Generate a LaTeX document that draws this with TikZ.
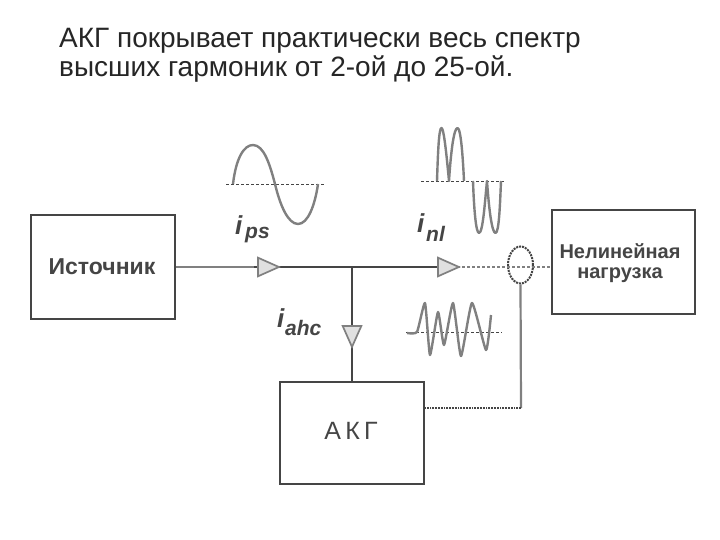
\documentclass[tikz,border=0pt]{standalone}
\usepackage{fontspec}
\setmainfont{Liberation Sans}
\usetikzlibrary{shapes.geometric}
\definecolor{ink}{gray}{0.27}
\definecolor{soft}{gray}{0.5}
\tikzset{
  blockbox/.style={draw=ink,line width=2pt,fill=white,inner sep=0pt,anchor=north west},
  blocklabel/.style={text=ink,align=center,inner sep=0pt},
  tri/.style={isosceles triangle,isosceles triangle apex angle=48,draw=soft,line width=1.7pt,fill=black!12,inner sep=0pt,minimum height=21pt,minimum width=16pt},
  mainline/.style={ink,line width=2.8pt},
  thinline/.style={soft,line width=1.8pt},
  wave/.style={soft,line width=2.4pt,line join=round},
  baseline/.style={ink,line width=.9pt,densely dashed},
  cur/.style={text=ink,inner sep=0pt,anchor=base west},
  title/.style={anchor=base west,inner sep=0pt,font=\fontsize{28}{32}\selectfont,text=black!85}
}
\begin{document}
\begin{tikzpicture}[x=1pt,y=-1pt]
\useasboundingbox[fill=white] (0,0) rectangle (720,540);
\node[title] (t1) at (59,47.5) {АКГ покрывает практически весь спектр};
\node[title] (t2) at (59,76.5) {высших гармоник от 2-ой до 25-ой.};

\node[blockbox,minimum width=144pt,minimum height=104pt] (src) at (30,214) {};
\node[blocklabel,font=\bfseries\fontsize{23}{26}\selectfont] (srcl) at (102,267) {Источник};
\node[blockbox,minimum width=143pt,minimum height=104pt] (load) at (551,209) {};
\node[blocklabel,font=\bfseries\fontsize{20}{20}\selectfont] (loadl) at (620,263) {Нелинейная\\нагрузка};
\node[blockbox,minimum width=144pt,minimum height=102pt] (akg) at (279,381) {};
\node[blocklabel,font=\fontsize{25}{28}\selectfont] (akgl) at (351,431) {А\,К\,Г};

\coordinate (j) at (352,267);
\coordinate (k) at (521,408);
\node[draw=ink,densely dotted,line width=2pt,ellipse,minimum width=25pt,minimum height=37pt,inner sep=0pt] (ct) at (520.5,265) {};

\draw[thinline] (src.east |- j) -- (254,267);
\draw[mainline] (254,267) -- (457,267);
\draw[thinline,densely dashed] (457,267) -- (load.west |- j);
\draw[mainline] (j) -- (akg.north -| j);
\draw[soft,line width=2.2pt] (ct.south) -- (k);
\draw[thinline,densely dotted,ink] (k) -- (k -| akg.east);

\node[tri] (a1) at (264,267) {};
\node[tri] (a2) at (444,267) {};
\node[tri,shape border rotate=-90] (a3) at (352,332) {};

\node[cur,font=\bfseries\itshape\fontsize{26}{28}\selectfont] (ips) at (235,235) {i};
\node[cur,font=\bfseries\itshape\fontsize{21}{24}\selectfont] (ipss) at (245,238) {ps};
\node[cur,font=\bfseries\itshape\fontsize{26}{28}\selectfont] (inl) at (417,233) {i};
\node[cur,font=\bfseries\itshape\fontsize{21}{24}\selectfont] (inls) at (426,241) {nl};
\node[cur,font=\bfseries\itshape\fontsize{26}{28}\selectfont] (iahc) at (277,327) {i};
\node[cur,font=\bfseries\itshape\fontsize{21}{24}\selectfont] (iahcs) at (285,335) {ahc};

% source current
\draw[baseline] (226,184) -- (325,184);
\draw[wave] (233,184) .. controls (236,158) and (244,145) .. (253,145)
  .. controls (264,145) and (270,165) .. (275,184)
  .. controls (280,205) and (288,224) .. (298,224)
  .. controls (308,224) and (315,205) .. (318,184);
% load current
\draw[baseline] (421,181) -- (505,181);
\draw[wave] (437,181) .. controls (438,150) and (439,128) .. (441.5,128)
  .. controls (444,128) and (447,160) .. (449,181)
  .. controls (451,150) and (454,128) .. (457.5,128)
  .. controls (461,128) and (463,160) .. (464,181);
\draw[wave] (473,181) .. controls (474,210) and (476,233) .. (479,233)
  .. controls (483,233) and (485,200) .. (487,181)
  .. controls (489,210) and (492,233) .. (495.5,233)
  .. controls (499,233) and (500,205) .. (501,181);
% compensation current
\draw[baseline] (406,332) -- (502,332);
\draw[wave] plot[smooth,tension=.3] coordinates
 {(407,333) (417,332) (425,303) (430,355) (438,312) (444,345) (453,303) (461,356) (472,303) (486,350) (491,315)};
\end{tikzpicture}
\end{document}
